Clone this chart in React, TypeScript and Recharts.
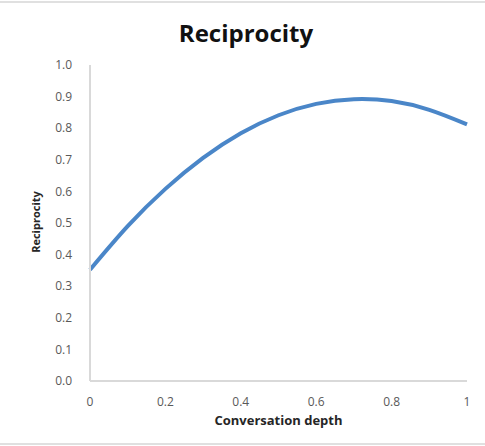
import React from "react";
import { LineChart, Line, XAxis, YAxis } from "recharts";

// curve at steps of 0.1
const depth = [0, 0.1, 0.2, 0.3, 0.4, 0.5, 0.6, 0.7, 0.8, 0.9, 1];
const reciprocity = [0.352, 0.49, 0.608, 0.706, 0.784, 0.841, 0.877, 0.892, 0.886, 0.858, 0.812];
const xTicks = [0, 0.2, 0.4, 0.6, 0.8, 1];
const yTicks = [0, 0.1, 0.2, 0.3, 0.4, 0.5, 0.6, 0.7, 0.8, 0.9, 1];

const data = depth.map((d, i) => ({ depth: d, value: reciprocity[i] }));

const FONT = "'Open Sans', 'Liberation Sans', sans-serif";
const AXIS_GRAY = "#d9d9d9";
const TICK_COLOR = "#595959";

const App: React.FC = () => {
  return (
    <div style={{ position: "absolute", left: 0, top: 0, width: 485, height: 446, background: "#fff" }}>
      {/* thin frame lines top and bottom */}
      <div style={{ position: "absolute", left: 0, top: 1, width: 485, height: 2, background: "#e0e0e0" }} />
      <div style={{ position: "absolute", left: 0, top: 443, width: 485, height: 2, background: "#e0e0e0" }} />

      <LineChart width={485} height={446} data={data} margin={{ top: 65, right: 18, bottom: 21, left: 0 }}>
        <XAxis
          dataKey="depth"
          type="number"
          domain={[0, 1]}
          ticks={xTicks}
          tickLine={false}
          tickMargin={10}
          height={44}
          axisLine={{ stroke: AXIS_GRAY, strokeWidth: 2 }}
          tick={{ fill: TICK_COLOR, fontSize: 12, fontFamily: FONT }}
          label={{
            value: "Conversation depth",
            position: "insideBottom",
            offset: 0,
            fill: "#262626",
            fontSize: 13,
            fontWeight: "bold",
            fontFamily: FONT,
          }}
        />
        <YAxis
          type="number"
          domain={[0, 1]}
          ticks={yTicks}
          width={90}
          tickLine={false}
          tickMargin={12}
          axisLine={{ stroke: AXIS_GRAY, strokeWidth: 2 }}
          tick={{ fill: TICK_COLOR, fontSize: 12, fontFamily: FONT }}
          tickFormatter={(v: number) => v.toFixed(1)}
        />
        <Line
          type="natural"
          dataKey="value"
          stroke="#4a86c8"
          strokeWidth={4}
          dot={false}
          isAnimationActive={false}
        />
      </LineChart>

      <svg width={485} height={446} style={{ position: "absolute", left: 0, top: 0, pointerEvents: "none" }}>
        <text x={246} y={42} textAnchor="middle" fontFamily={FONT} fontWeight="bold" fontSize={24} fill="#111">
          Reciprocity
        </text>
        <text
          x={40}
          y={222}
          textAnchor="middle"
          transform="rotate(-90, 40, 222)"
          fontFamily={FONT}
          fontWeight="bold"
          fontSize={11}
          fill="#262626"
        >
          Reciprocity
        </text>
      </svg>
    </div>
  );
};

export default App;
